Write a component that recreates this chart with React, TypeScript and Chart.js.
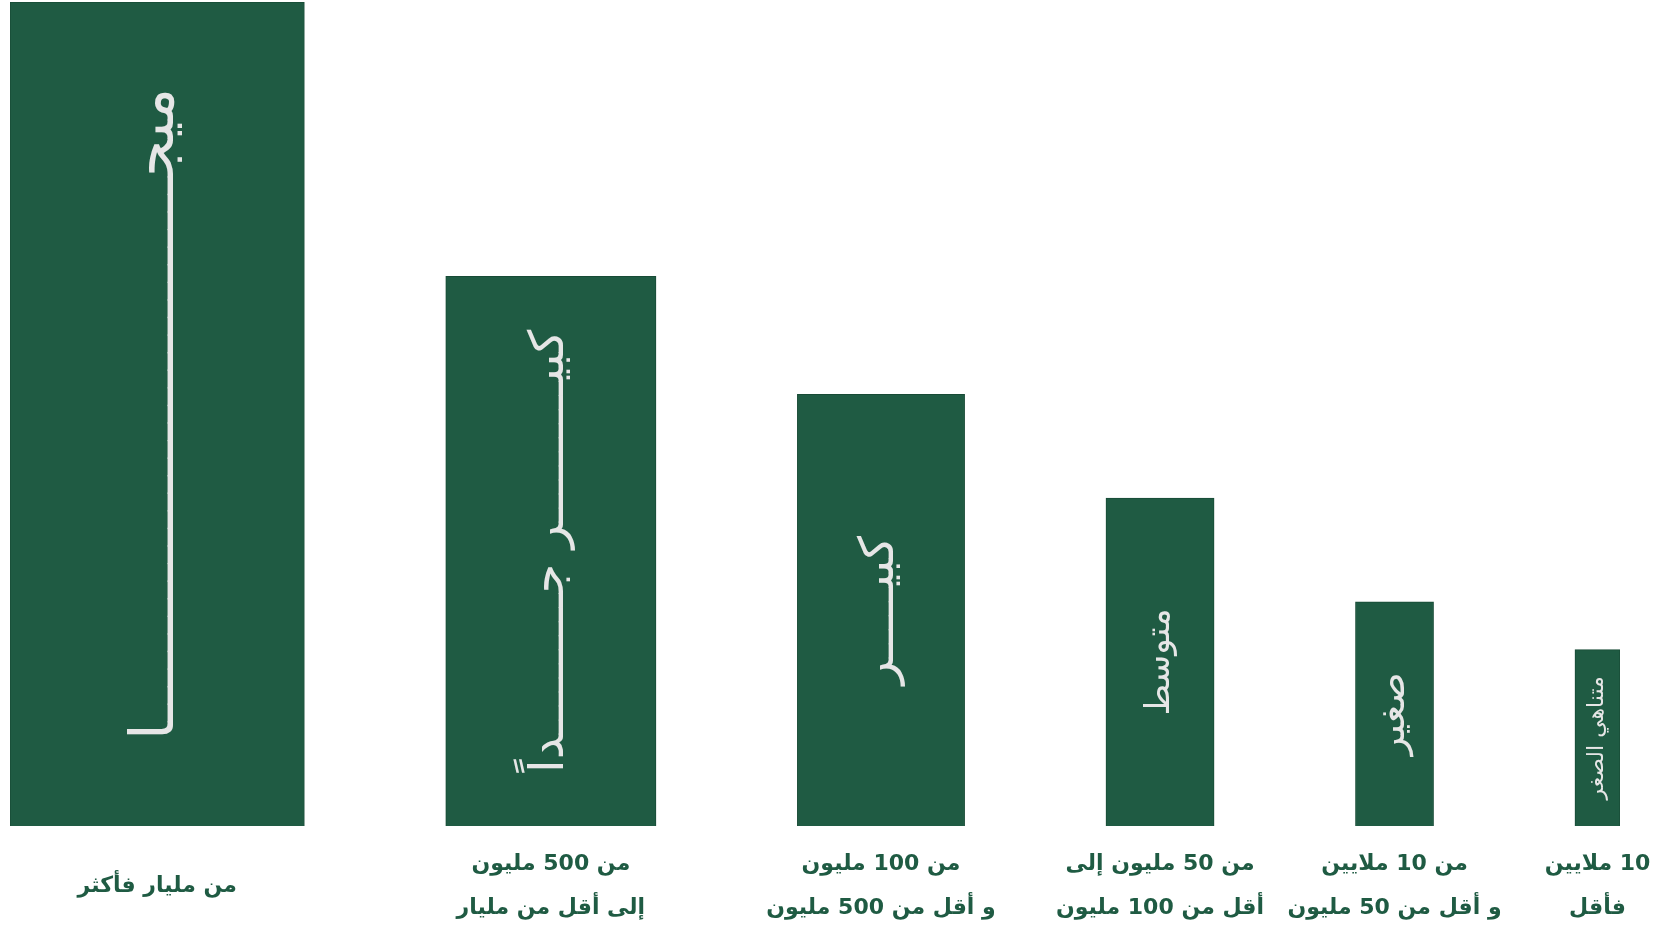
import React, { useEffect, useRef } from 'react';
import { Chart, registerables } from 'chart.js';

Chart.register(...registerables);

// ---- data ----
const categoryLines: string[][] = [
  ['من مليار فأكثر'],
  ['من 500 مليون', 'إلى أقل من مليار'],
  ['من 100 مليون', 'و أقل من 500 مليون'],
  ['من 50 مليون إلى', 'أقل من 100 مليون'],
  ['من 10 ملايين', 'و أقل من 50 مليون'],
  ['10 ملايين', 'فأقل'],
];
// "|" marks where the kashida (tatweel) stretching goes
const sizeNames = ['ميج|ا', 'كبي|ر ج|داً', 'كبي|ر', 'متوسط', 'صغير', 'متناهي الصغر'];
const barHeights = [100, 66.7, 52.4, 39.8, 27.2, 21.4];
const barWidths = [294, 210, 167, 108, 78, 45];
const barGap = 141.2;

// ---- styles ----
const barFill = '#1f5b43';
const barEdge = '#184b36';
const labelGreen = '#1f5b43';
const innerTextColor = '#e6e6e6';
const innerFontSizes = [60, 48, 48, 34, 38, 22];
const stretchFractions = [0.8, 0.84, 0.35, 0, 0, 0];
const CANVAS_W = 1653;
const CANVAS_H = 930;
const PAD = { top: 2, left: 10, right: 33, bottom: 0 };

const barLefts = barWidths.map(
  (w, i) => barWidths.slice(0, i).reduce((a, b) => a + b, 0) + i * barGap
);
const barCenters = barLefts.map((l, i) => l + barWidths[i] / 2);
const xTotal = barWidths.reduce((a, b) => a + b, 0) + (barWidths.length - 1) * barGap;
const pxPerUnit = (CANVAS_W - PAD.left - PAD.right) / xTotal;

function fitKashida(ctx: CanvasRenderingContext2D, pattern: string, target: number): string {
  const parts = pattern.split('|');
  const plain = parts.join('');
  if (parts.length === 1 || target <= 0) return plain;
  let s = plain;
  for (let n = 1; n < 400; n++) {
    const candidate = parts.join('\u0640'.repeat(n));
    if (ctx.measureText(candidate).width > target) break;
    s = candidate;
  }
  return s;
}

const innerTextPlugin = {
  id: 'innerText',
  afterDatasetsDraw(chart: any) {
    const ctx: CanvasRenderingContext2D = chart.ctx;
    chart.data.datasets.forEach((_ds: any, i: number) => {
      const meta = chart.getDatasetMeta(i);
      const el = meta.data[0];
      if (!el) return;
      const { x, y, base } = el.getProps(['x', 'y', 'base'], true);
      const h = base - y;
      ctx.save();
      ctx.font = `${innerFontSizes[i]}px "DejaVu Sans", sans-serif`;
      (ctx as any).direction = 'rtl';
      const text = fitKashida(ctx, sizeNames[i], stretchFractions[i] * h);
      ctx.translate(x, y + h / 2);
      ctx.rotate(-Math.PI / 2);
      ctx.fillStyle = innerTextColor;
      ctx.textAlign = 'center';
      ctx.textBaseline = 'middle';
      ctx.fillText(text, 0, 0);
      ctx.restore();
    });
  },
};

export default function App() {
  const canvasRef = useRef<HTMLCanvasElement | null>(null);

  useEffect(() => {
    const canvas = canvasRef.current;
    if (!canvas) return;
    const chart = new Chart(canvas, {
      type: 'bar',
      data: {
        datasets: barHeights.map((h, i) => ({
          label: sizeNames[i].replace(/\|/g, ''),
          data: [{ x: barCenters[i], y: h }],
          backgroundColor: barFill,
          borderColor: barEdge,
          borderWidth: 1,
          barThickness: barWidths[i] * pxPerUnit,
          grouped: false,
        })) as any,
      },
      options: {
        responsive: false,
        maintainAspectRatio: false,
        animation: false,
        layout: { padding: PAD },
        plugins: {
          legend: { display: false },
          tooltip: { enabled: false },
        },
        scales: {
          x: {
            type: 'linear',
            min: 0,
            max: xTotal,
            offset: false,
            grid: { display: false, drawTicks: true, tickLength: 16 },
            border: { display: false },
            afterBuildTicks: (scale: any) => {
              scale.ticks = barCenters.map((v) => ({ value: v }));
            },
            afterFit: (scale: any) => {
              scale.paddingLeft = 0;
              scale.paddingRight = 0;
            },
            ticks: {
              autoSkip: false,
              maxRotation: 0,
              minRotation: 0,
              padding: 11,
              color: labelGreen,
              font: { family: '"DejaVu Sans", sans-serif', size: 22, weight: 'bold', lineHeight: 1 },
              callback: (_v: any, i: number) => {
                const l = categoryLines[i];
                return l.length > 1 ? [l[0], '', l[1]] : ['', l[0]];
              },
            },
          },
          y: {
            display: false,
            min: 0,
            max: Math.max(...barHeights),
          },
        },
      } as any,
      plugins: [innerTextPlugin],
    });
    return () => chart.destroy();
  }, []);

  return (
    <div style={{ position: 'absolute', left: 0, top: 0, width: CANVAS_W, height: CANVAS_H, background: '#ffffff' }}>
      <canvas ref={canvasRef} width={CANVAS_W} height={CANVAS_H} dir="rtl" style={{ display: 'block' }} />
    </div>
  );
}
